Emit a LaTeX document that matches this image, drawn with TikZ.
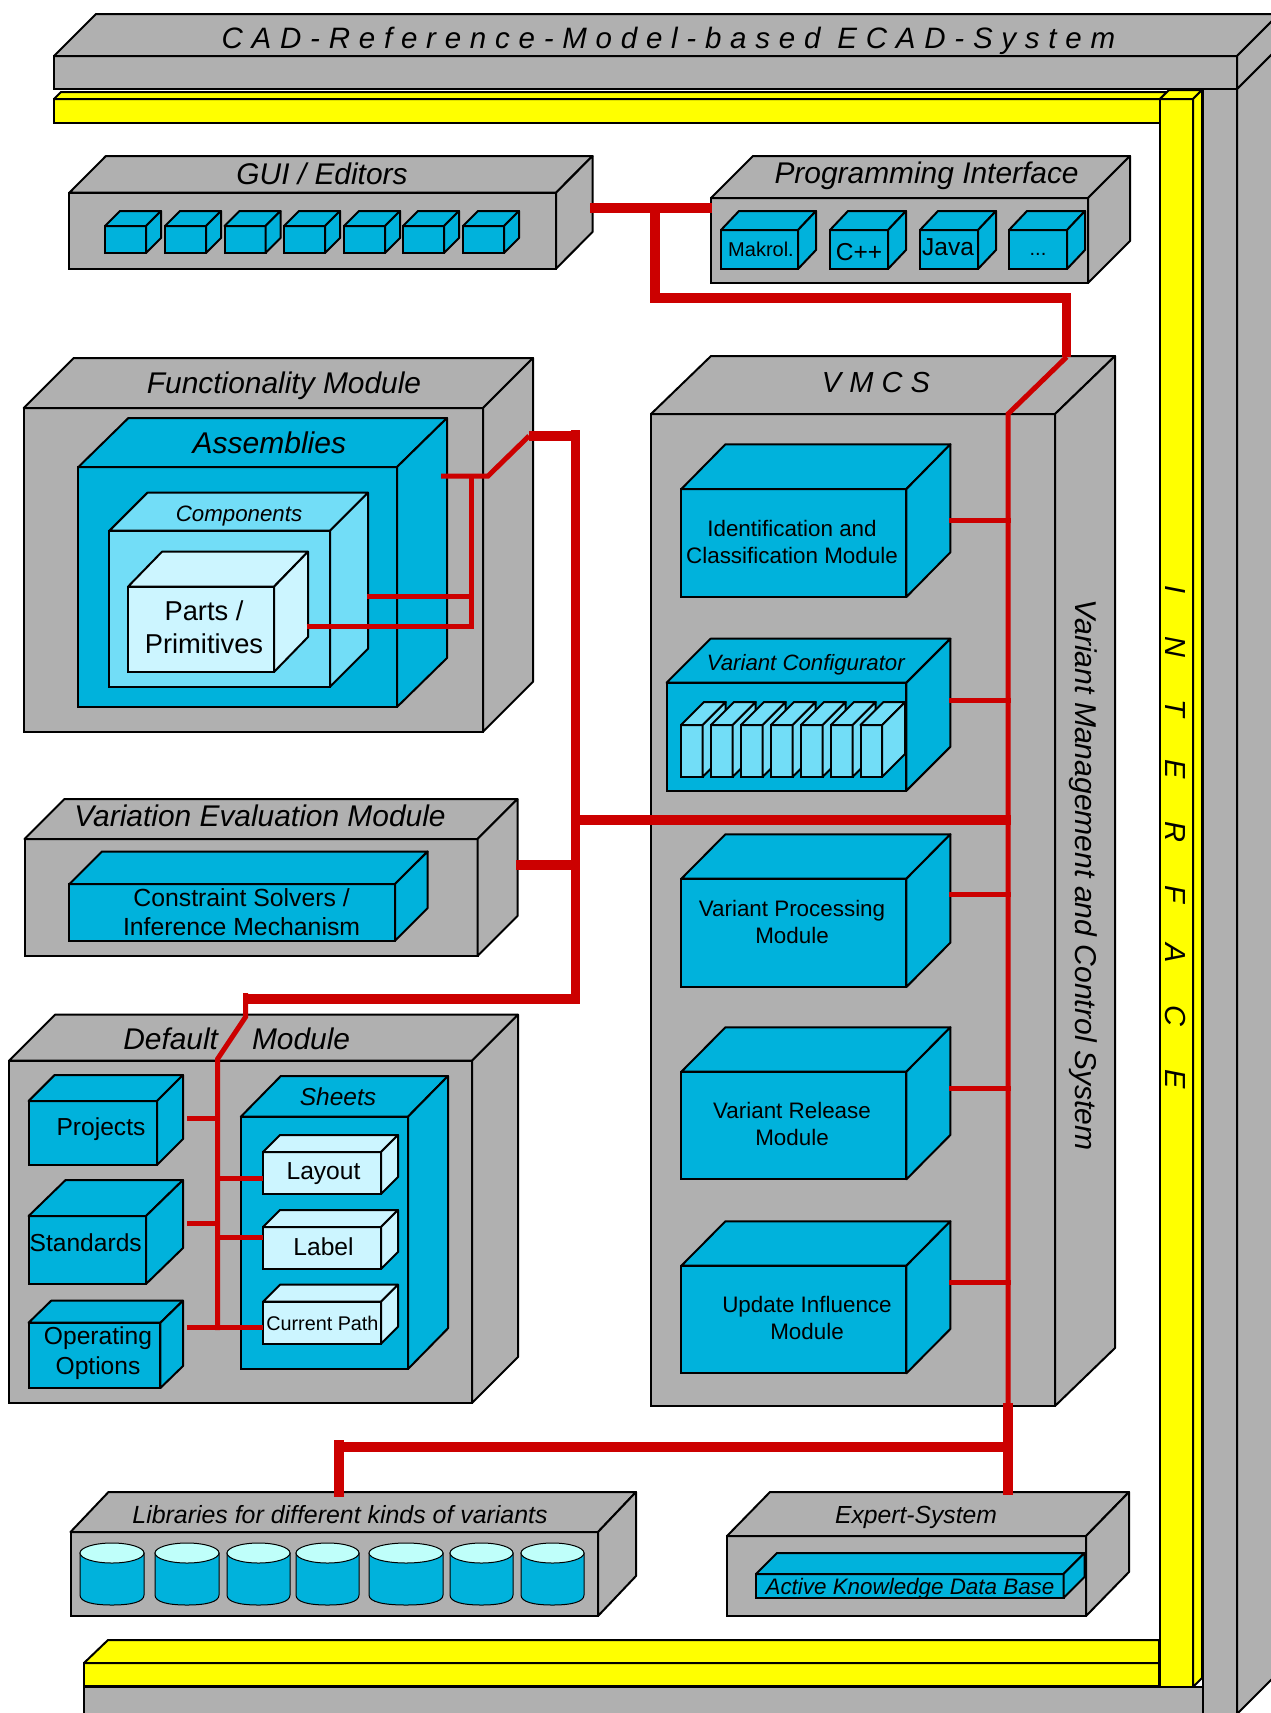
\documentclass[tikz,border=0pt]{standalone}
\usepackage{fontspec}
\setmainfont{Liberation Sans}
\usepackage{tikz}
\usetikzlibrary{shapes.geometric}
\definecolor{panelgrey}{HTML}{B0B0B0}
\definecolor{modblue}{HTML}{00B2DC}
\definecolor{skyblue}{HTML}{72DDF7}
\definecolor{paleblue}{HTML}{CCF5FF}
\definecolor{tubetop}{HTML}{BFFFFA}
\definecolor{busred}{HTML}{CC0000}
\definecolor{ifyellow}{RGB}{255,255,0}
\tikzstyle{front}=[rectangle,draw=black,line width=2pt,anchor=north west,inner sep=0pt,outer sep=0pt]
\tikzstyle{face}=[draw=black,line width=2pt,line join=round]
\tikzstyle{greybox}=[fill=panelgrey]
\tikzstyle{bluebox}=[fill=modblue]
\tikzstyle{skybox}=[fill=skyblue]
\tikzstyle{palebox}=[fill=paleblue]
\tikzstyle{yellowbox}=[fill=ifyellow]
\tikzstyle{tag}=[inner sep=0pt,outer sep=0pt,align=center]
\tikzstyle{title}=[tag,font=\itshape\fs{29.9}{35}]
\tikzstyle{bustube}=[ellipse,draw=black,line width=1pt,fill=tubetop,inner sep=0pt,outer sep=0pt,minimum height=20pt]
\tikzstyle{busfat}=[draw=busred,line width=9.6pt]
\tikzstyle{busthin}=[draw=busred,line width=5pt]
\newcommand{\fs}[2]{\fontsize{#1}{#2}\selectfont}
\newcommand{\spaced}[1]{\addfontfeatures{LetterSpace=#1}}
% name, look, x, y, width, height, depth x, depth y
\newcommand{\slab}[8]{
    \node[front,#2,minimum width=#5pt,minimum height=#6pt] (#1) at (#3,#4) {};
    \draw[face,#2] (#1.north west) -- ++(#7,-#8) -- ++(#5,0) -- (#1.north east) -- cycle;
    \draw[face,#2] (#1.north east) -- ++(#7,-#8) -- ++(0,#6) -- (#1.south east) -- cycle;
}
\begin{document}
\begin{tikzpicture}[x=1pt,y=-1pt]
    \useasboundingbox (0,0) rectangle (1271,1713);
    \clip (0,0) rectangle (1271,1713);

    % outer frame
    \draw[face,greybox] (84,1687) rectangle (1237,1760);
    \draw[face,greybox] (1203,89) rectangle (1237,1760);
    \draw[face,greybox] (1237,89) -- (1279,47) -- (1279,1672) -- (1237,1714) -- cycle;
    \slab{system}{greybox}{54}{56}{1183}{33}{42}{42}
    \node[title,font=\itshape\fs{29.5}{35}\spaced{29.7}] (systemtxt) at (668.5,41) {CAD-Reference-Model-based ECAD-System};

    % yellow interface
    \node[front,yellowbox,minimum width=1075pt,minimum height=23pt] (ifbottom) at (84,1663) {};
    \draw[face,yellowbox] (ifbottom.north west) -- ++(24,-23) -- ++(1051,0) -- (ifbottom.north east) -- cycle;
    \slab{iftop}{yellowbox}{54}{99}{1106}{24}{7}{7}
    \slab{ifside}{yellowbox}{1160}{99}{33}{1588}{9}{9}
    \node[tag,rotate=-90,font=\itshape\fs{29}{34}\spaced{147}] (iftxt) at (1175,837) {INTERFACE};

    % GUI
    \slab{gui}{greybox}{69.4}{192.7}{486.6}{76}{36.5}{36.7}
    \node[title] (guitxt) at (322,174) {GUI / Editors};
    \foreach \n/\x in {1/105,2/165,3/224.5,4/284,5/344,6/403,7/463}{
        \slab{gui\n}{bluebox}{\x}{226}{41}{27}{15}{15}
    }

    % programming interface
    \slab{prog}{greybox}{711}{198}{377}{85}{42}{42}
    \node[title] (progtxt) at (926.6,176) {Programming Interface};
    \slab{makrol}{bluebox}{721}{230}{77}{39}{18}{19}
    \slab{cpp}{bluebox}{830}{230}{58}{39}{18}{19}
    \slab{java}{bluebox}{920}{230}{58}{39}{18}{19}
    \slab{dots}{bluebox}{1009}{230}{58}{39}{18}{19}
    \node[tag,font=\fs{20}{24}] (makroltxt) at (761,249) {Makrol.};
    \node[tag,font=\fs{24.5}{29}] (cpptxt) at (859,252) {C++};
    \node[tag,font=\fs{24.5}{29}] (javatxt) at (948,247) {Java};
    \node[tag,font=\fs{20}{24}] (dotstxt) at (1038,254) {...};

    % functionality
    \slab{func}{greybox}{23.7}{408}{459.3}{323.7}{50}{50}
    \node[title] (functxt) at (284,385.5) {Functionality Module};
    \slab{asm}{bluebox}{78.4}{467}{318.6}{240}{50}{49}
    \node[title,font=\itshape\fs{30}{35}] (asmtxt) at (269.4,442.7) {Assemblies};
    \slab{comp}{skybox}{109.4}{530.7}{220.6}{156}{38}{38}
    \node[title,font=\itshape\fs{22.3}{27}] (comptxt) at (239,516) {Components};
    \slab{parts}{palebox}{128}{586.7}{146}{85.3}{34}{35}
    \node[tag,font=\fs{27.3}{33}] (partstxt) at (204,627) {Parts /\\Primitives};

    % variation evaluation
    \slab{vareval}{greybox}{24.5}{839}{453}{117}{40}{40}
    \node[title] (varevaltxt) at (260,815.7) {Variation Evaluation Module};
    \slab{solver}{bluebox}{69.4}{884}{325.6}{56.7}{32.6}{32.5}
    \node[tag,font=\fs{24.8}{29}] (solvertxt) at (241.6,912) {Constraint Solvers /\\Inference Mechanism};

    % default module
    \slab{dflt}{greybox}{9}{1060.7}{463}{342.3}{46}{46}
    \node[title] (dflttxt) at (236.7,1039) {Default\hspace{34pt}Module};
    \slab{proj}{bluebox}{28.6}{1101}{128.4}{64}{26}{26}
    \slab{stds}{bluebox}{28.6}{1216}{117.4}{68}{37}{36}
    \slab{opts}{bluebox}{28.6}{1322.7}{131.8}{65.3}{22.6}{22}
    \node[tag,font=\fs{24.6}{30}] (projtxt) at (101,1129) {Projects};
    \node[tag,font=\fs{24.6}{30}] (stdstxt) at (85.7,1243) {Standards};
    \node[tag,font=\fs{24.6}{30}] (optstxt) at (98,1353) {Operating\\Options};
    \slab{sheets}{bluebox}{240.8}{1116.7}{167.2}{252.3}{40}{40.7}
    \node[title,font=\itshape\fs{24.5}{29}] (sheetstxt) at (338,1096.7) {Sheets};
    \slab{layout}{palebox}{263}{1152}{118}{42}{17}{17}
    \slab{label}{palebox}{263}{1227}{118}{42}{17}{17}
    \slab{cpath}{palebox}{263}{1301.7}{118}{42}{17}{17}
    \node[tag,font=\fs{24.6}{30}] (layouttxt) at (323.5,1174) {Layout};
    \node[tag,font=\fs{24.6}{30}] (labeltxt) at (323.5,1247) {Label};
    \node[tag,font=\fs{19.8}{24}] (cpathtxt) at (322.4,1323) {Current Path};

    % VMCS
    \slab{vmcs}{greybox}{651}{414}{404}{992}{60}{58}
    \node[tag,font=\itshape\fs{29}{34}\spaced{28}] (vmcstxt) at (876,382.7) {VMCS};
    \node[tag,rotate=-90,font=\itshape\fs{30.1}{35}] (vmcsside) at (1083.5,875) {Variant Management and Control System};
    \slab{ident}{bluebox}{681.4}{489}{225}{108}{44}{44.7}
    \node[tag,font=\fs{22.4}{27}] (identtxt) at (792,541.5) {Identification and\\Classification Module};
    \slab{config}{bluebox}{666.6}{682.7}{239.8}{108}{44}{44}
    \node[title,font=\itshape\fs{22.2}{27}] (configtxt) at (805.8,664.7) {Variant Configurator};
    \foreach \n/\x in {1/681,2/711,3/741,4/771,5/801,6/831,7/860.5}{
        \slab{book\n}{skybox}{\x}{725}{21.7}{51.7}{23}{23}
    }
    \slab{process}{bluebox}{681.4}{878.7}{225}{108.3}{44}{44.4}
    \node[tag,font=\fs{22.4}{27}] (processtxt) at (792,921.7) {Variant Processing\\Module};
    \slab{release}{bluebox}{681.4}{1071.7}{225}{107.6}{44}{44.4}
    \node[tag,font=\fs{22.4}{27}] (releasetxt) at (792,1124) {Variant Release\\Module};
    \slab{update}{bluebox}{681.4}{1265.7}{225}{107.6}{44}{44.4}
    \node[tag,font=\fs{22.4}{27}] (updatetxt) at (807,1318) {Update Influence\\Module};

    % libraries
    \slab{libs}{greybox}{70.5}{1532}{527.5}{84}{38}{40}
    \node[title,font=\itshape\fs{24.9}{30}] (libstxt) at (340,1515) {Libraries for different kinds of variants};
    \foreach \n/\x/\w in {1/80/64,2/155/64,3/227/63,4/296/63,5/369/74,6/450/63,7/521/63}{
        \draw[draw=black,line width=1pt,fill=modblue] (\x,1553) -- (\x,1595)
            .. controls (\x,1602) and ({\x+0.2*\w},1605) .. ({\x+0.5*\w},1605)
            .. controls ({\x+0.8*\w},1605) and ({\x+\w},1602) .. ({\x+\w},1595)
            -- ({\x+\w},1553) -- cycle;
        \node[bustube,minimum width=\w pt] (lib\n) at ({\x+0.5*\w},1553) {};
    }

    % expert system
    \slab{expert}{greybox}{727}{1536}{359}{80}{43}{44}
    \node[title,font=\itshape\fs{24.7}{30}] (experttxt) at (916,1517) {Expert-System};
    \slab{akdb}{bluebox}{756}{1574}{307.5}{24}{21}{21}
    \node[title,font=\itshape\fs{22.4}{27}] (akdbtxt) at (910,1589) {Active Knowledge Data Base};

    % ports and junctions
    \coordinate (guiport) at (590,208);
    \coordinate (progport) at (712,208);
    \coordinate (tapA) at (655,208);
    \coordinate (tapB) at (655,298);
    \coordinate (tapC) at (1066.6,298);
    \coordinate (vmcsport) at (1066.6,357);
    \coordinate (busTop) at (1008,414);
    \coordinate (busEnd) at (1008,1403);
    \coordinate (busFoot) at (1008,1495);
    \coordinate (libJoin) at (1008,1447);
    \coordinate (libTurn) at (339,1447);
    \coordinate (libHead) at (339,1440);
    \coordinate (libFoot) at (339,1497);
    \coordinate (spineTop) at (575.5,430);
    \coordinate (spineBot) at (575.5,1004);
    \coordinate (spineFunc) at (575.5,436);
    \coordinate (funcTurn) at (529,436);
    \coordinate (funcKnee) at (488,476);
    \coordinate (asmport) at (441,476);
    \coordinate (funcDrop) at (471.4,476);
    \coordinate (funcLow) at (471.4,628.5);
    \coordinate (compport) at (367,596);
    \coordinate (compJoin) at (471.4,596);
    \coordinate (partport) at (306.5,626);
    \coordinate (partJoin) at (471.4,626);
    \coordinate (evalport) at (516,864.7);
    \coordinate (evalJoin) at (575.5,864.7);
    \coordinate (midLeft) at (575.5,820);
    \coordinate (midRight) at (1010.5,820);
    \coordinate (dfltJoin) at (575.5,999);
    \coordinate (dfltTurn) at (245.5,999);
    \coordinate (dfltHead) at (245.5,993);
    \coordinate (dfltKnee) at (245.5,1017);
    \coordinate (dfltTop) at (217.5,1059);
    \coordinate (dfltBot) at (217.5,1330);

    \draw[busfat] (guiport) -- (progport);
    \draw[busfat] (tapA) -- (tapB) -- (tapC) -- (vmcsport);
    \draw[busthin] (vmcsport) -- (busTop) -- (busEnd);
    \draw[busfat] (busEnd) -- (busFoot);
    \draw[busfat] (libJoin) -- (libTurn);
    \draw[busfat] (libHead) -- (libFoot);

    \draw[busfat] (spineTop) -- (spineBot);
    \draw[busfat] (funcTurn) -- (spineFunc);
    \draw[busthin] (asmport) -- (funcKnee) -- (funcTurn);
    \draw[busthin] (funcDrop) -- (funcLow);
    \draw[busthin] (compport) -- (compJoin);
    \draw[busthin] (partport) -- (partJoin);
    \draw[busfat] (evalport) -- (evalJoin);
    \draw[busfat] (midLeft) -- (midRight);
    \draw[busfat] (dfltJoin) -- (dfltTurn);
    \draw[busthin] (dfltHead) -- (dfltKnee) -- (dfltTop) -- (dfltBot);

    % stubs off the two thin buses
    \foreach \n/\y in {a/520.7,b/700,c/894.7,d/1088.7,e/1282.7}{
        \coordinate (stub\n) at (949,\y);
        \coordinate (join\n) at (1011,\y);
        \draw[busthin] (stub\n) -- (join\n);
    }
    \foreach \n/\y/\a/\b in {p/1118/187/217.5,s/1223/187/217.5,o/1327.7/187/263,l/1178/217.5/263,m/1237.7/217.5/263}{
        \coordinate (dfltA\n) at (\a,\y);
        \coordinate (dfltB\n) at (\b,\y);
        \draw[busthin] (dfltA\n) -- (dfltB\n);
    }
\end{tikzpicture}
\end{document}
